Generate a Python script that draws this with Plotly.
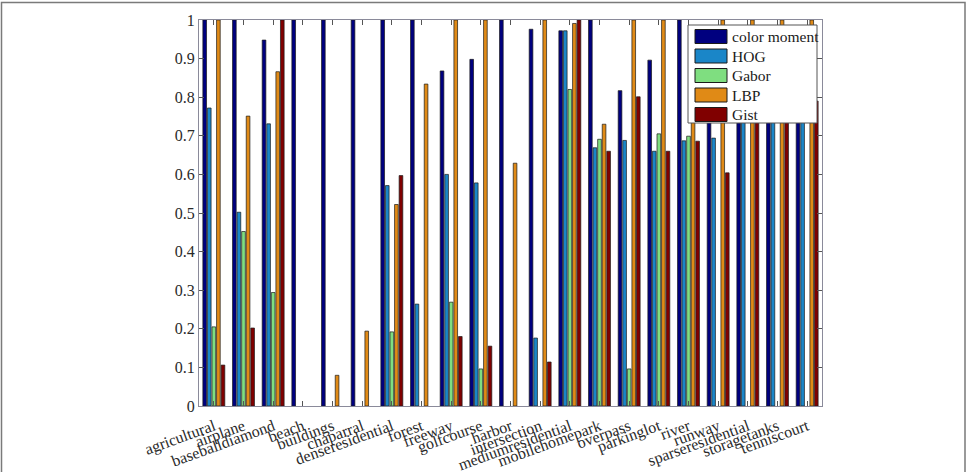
import plotly.graph_objects as go

categories = ["agricultural", "airplane", "baseballdiamond", "beach", "buildings",
              "chaparral", "denseresidential", "forest", "freeway", "golfcourse",
              "harbor", "intersection", "mediumresidential", "mobilehomepark",
              "overpass", "parkinglot", "river", "runway", "sparseresidential",
              "storagetanks", "tenniscourt"]

color_moment = [1.0, 1.0, 0.948, 1.0, 1.0, 1.0, 1.0, 1.0, 0.868, 0.898, 1.0, 0.976,
                0.972, 1.0, 0.817, 0.896, 1.0, 0.95, 0.96, 0.97, 0.94]
hog = [0.772, 0.502, 0.731, 0.0, 0.0, 0.0, 0.571, 0.264, 0.600, 0.578, 0.0, 0.176,
       0.972, 0.669, 0.688, 0.660, 0.687, 0.694, 0.82, 0.85, 0.80]
gabor = [0.205, 0.452, 0.294, 0.0, 0.0, 0.0, 0.192, 0.0, 0.269, 0.096, 0.0, 0.0,
         0.820, 0.691, 0.096, 0.705, 0.699, 0.0, 0.0, 0.0, 0.0]
lbp = [1.0, 0.751, 0.866, 0.0, 0.0795, 0.194, 0.522, 0.834, 1.0, 1.0, 0.629, 1.0,
       0.991, 0.730, 1.0, 1.0, 0.93, 1.0, 1.0, 1.0, 1.0]
gist = [0.106, 0.202, 1.0, 0.0, 0.0, 0.0, 0.597, 0.0, 0.18, 0.155, 0.0, 0.114,
        1.0, 0.660, 0.801, 0.660, 0.686, 0.604, 0.88, 0.90, 0.79]

series_names = ["color moment", "HOG", "Gabor", "LBP", "Gist"]
series_values = [color_moment, hog, gabor, lbp, gist]
series_colors = ["#00007f", "#1a86c8", "#7fde80", "#e08a16", "#800000"]

ytick_vals = [0, 0.1, 0.2, 0.3, 0.4, 0.5, 0.6, 0.7, 0.8, 0.9, 1]
ytick_text = ["0", "0.1", "0.2", "0.3", "0.4", "0.5", "0.6", "0.7", "0.8", "0.9", "1"]

FONT = "Liberation Serif, Times New Roman, serif"

fig = go.Figure()
for name, vals, col in zip(series_names, series_values, series_colors):
    widths = [0.7 if v > 0 else 0 for v in vals]
    fig.add_trace(go.Bar(x=categories, y=vals, name=name, showlegend=False,
                         marker=dict(color=col, line=dict(color="#1a1a1a", width=widths))))

L, R, T, B = 199, 146, 20, 66
W, H = 968, 472
pw, ph = W - L - R, H - T - B

def px(x):
    return (x - L) / pw

def py(y):
    return (H - B - y) / ph

shapes = [dict(type="rect", xref="paper", yref="paper",
               x0=px(1.5), x1=px(965), y0=py(490), y1=py(2.5),
               line=dict(color="#7a7a7a", width=1.5), layer="below")]
annotations = []

# legend box (drawn above the bars, like the reference)
lx0, lx1, ly0, ly1 = 688, 817, 25, 123
shapes.append(dict(type="rect", xref="paper", yref="paper",
                   x0=px(lx0), x1=px(lx1), y0=py(ly1), y1=py(ly0),
                   fillcolor="white", line=dict(color="#555555", width=1), layer="above"))
step = 19.5
for i, (name, col) in enumerate(zip(series_names, series_colors)):
    cy = 36.5 + i * step
    shapes.append(dict(type="rect", xref="paper", yref="paper",
                       x0=px(695), x1=px(727), y0=py(cy + 7), y1=py(cy - 7),
                       fillcolor=col, line=dict(color="#1a1a1a", width=1), layer="above"))
    annotations.append(dict(xref="paper", yref="paper", x=px(730), y=py(cy),
                            xanchor="left", yanchor="middle", text=name, showarrow=False,
                            font=dict(family=FONT, size=15.5, color="#1a1a1a")))

fig.update_layout(
    width=W, height=H,
    margin=dict(l=L, r=R, t=T, b=B, pad=0),
    paper_bgcolor="white", plot_bgcolor="white",
    barmode="group", bargap=0.23, bargroupgap=0.2,
    font=dict(family=FONT, size=16, color="#2a2a2a"),
    showlegend=False,
    xaxis=dict(type="category", tickangle=-20, ticks="inside", ticklen=5,
               tickcolor="#555", showline=True, linecolor="#8a8a9a", linewidth=1,
               mirror="ticks", showgrid=False, automargin=False, ticklabelstandoff=4,
               tickfont=dict(family=FONT, size=16, color="#2a2a2a")),
    yaxis=dict(range=[0, 1], tickvals=ytick_vals, ticktext=ytick_text,
               ticks="inside", ticklen=5, tickcolor="#555", showline=True,
               linecolor="#8a8a9a", linewidth=1, mirror="ticks", showgrid=False,
               zeroline=False, automargin=False,
               tickfont=dict(family=FONT, size=16, color="#2a2a2a")),
    shapes=shapes,
    annotations=annotations,
)

fig.write_html("out.html")
